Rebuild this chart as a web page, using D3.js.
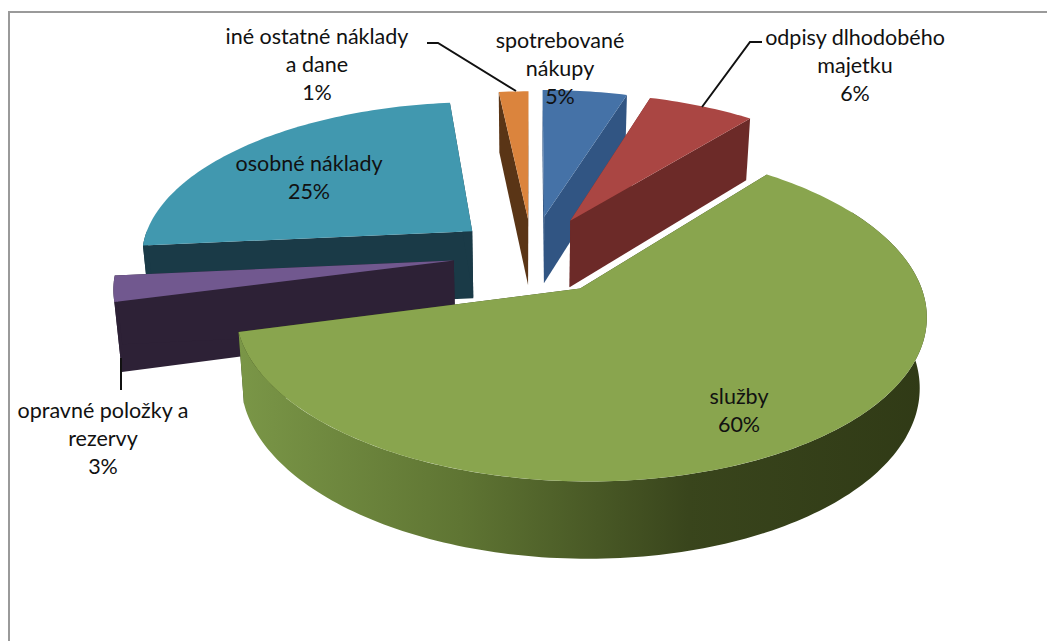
<!DOCTYPE html>
<html>
<head>
<meta charset="utf-8">
<script src="https://cdn.jsdelivr.net/npm/d3@7"></script>
<style>
  html, body { margin: 0; padding: 0; background: #fff; }
  text { font-family: Lato, "Open Sans", sans-serif; font-size: 21.5px; fill: #111; text-anchor: middle; }
</style>
</head>
<body>
<div id="chart"></div>
<script>
const categories = [
  ['spotrebované', 'nákupy'],
  ['odpisy dlhodobého', 'majetku'],
  ['služby'],
  ['opravné položky a', 'rezervy'],
  ['osobné náklady'],
  ['iné ostatné náklady', 'a dane']
];
// slice sizes, the printed labels are rounded
const values = [4.78, 6.03, 60.08, 2.61, 24.83, 1.67];
const percentLabels = ['5%', '6%', '60%', '3%', '25%', '1%'];
const topColors = ['#4572a7', '#aa4643', '#89a54e', '#71588f', '#4198af', '#db843d'];
const wallColors = ['#315583', '#6c2a28', '#36421b', '#2d2136', '#1a3a47', '#5a3516'];

// where the label text sits, [x, y of first line]
const labelPos = [[560, 43], [855, 40], [739, 399], [103, 413], [309, 166], [317, 39]];
const leaders = [
  null,
  [[762, 42], [750, 42], [702, 107]],
  null,
  [[121, 358], [121, 390]],
  null,
  [[427, 43], [438, 43], [516, 91]]
];
const drawOrder = [4, 5, 0, 1, 3, 2];
const explodes = [0.25, 0.25, 0.255, 0.235, 0.235, 0.235];
const radii = [1, 1, 0.984, 0.99, 0.99, 1];

const w = 1047;
const h = 641;
const cx = 532, cy = 254;
const scaleX = 336, scaleY = 156, persp = 0.149;
const depth = 68;

const svg = d3.select('#chart').append('svg')
  .attr('width', w)
  .attr('height', h)
  .style('display', 'block');

const defs = svg.append('defs');
const grad = defs.append('linearGradient')
  .attr('id', 'wallGreen')
  .attr('gradientUnits', 'userSpaceOnUse')
  .attr('x1', 240).attr('x2', 930).attr('y1', 0).attr('y2', 0);
[[0, '#7a9647'], [0.32, '#5f7533'], [0.65, '#39451c'], [1, '#303a16']].forEach(s => {
  grad.append('stop').attr('offset', s[0]).attr('stop-color', s[1]);
});

// frame of the chart, open on the right and at the bottom
svg.append('path')
  .attr('d', 'M9,641V12H1047')
  .attr('fill', 'none')
  .attr('stroke', '#9a9a9a')
  .attr('stroke-width', 2);

const pie = d3.pie().sort(null).value(d => d).startAngle(0).endAngle(2 * Math.PI);
const slices = pie(values);

// world position on the pie plane -> screen, z 0 is the top face and 1 the bottom
const project = (x, y, z) => {
  const k = 1 + persp * y;
  const shrink = 1 - 0.018 * z;
  return [
    cx + scaleX * x / k * shrink,
    cy - scaleY * y / k + z * depth / (1 + 0.1 * y)
  ];
};

const line = d3.line();

slices.forEach((s, i) => {
  const mid = (s.startAngle + s.endAngle) / 2;
  s.ox = explodes[i] * Math.sin(mid);
  s.oy = explodes[i] * Math.cos(mid);
  s.r = radii[i];
  s.color = topColors[i];
  s.wall = wallColors[i];
});

const rimPoints = (s, a0, a1, z) => {
  const n = Math.max(2, Math.ceil((a1 - a0) / 0.02));
  return d3.range(n + 1).map(j => {
    const a = a0 + (a1 - a0) * j / n;
    return project(s.ox + s.r * Math.sin(a), s.oy + s.r * Math.cos(a), z);
  });
};

const pieG = svg.append('g');

drawOrder.forEach(i => {
  const s = slices[i];
  const g = pieG.append('g');
  const apexTop = project(s.ox, s.oy, 0);
  const apexBottom = project(s.ox, s.oy, 1);

  // cut faces
  [s.startAngle, s.endAngle].forEach(a => {
    const rimTop = rimPoints(s, a, a, 0)[0];
    const rimBottom = rimPoints(s, a, a, 1)[0];
    g.append('path')
      .attr('d', line([apexTop, rimTop, rimBottom, apexBottom]) + 'Z')
      .attr('fill', s.wall);
  });

  // outer wall, only the part that faces the viewer
  const a0 = Math.max(s.startAngle, Math.PI / 3);
  const a1 = Math.min(s.endAngle, 1.5 * Math.PI);
  if (a1 > a0) {
    const pts = rimPoints(s, a0, a1, 0).concat(rimPoints(s, a0, a1, 1).reverse());
    g.append('path')
      .attr('d', line(pts) + 'Z')
      .attr('fill', i === 2 ? 'url(#wallGreen)' : s.wall);
  }

  // top face
  const topPts = [apexTop].concat(rimPoints(s, s.startAngle, s.endAngle, 0));
  g.append('path')
    .attr('d', line(topPts) + 'Z')
    .attr('fill', s.color);
});

leaders.forEach(l => {
  if (!l) return;
  svg.append('path')
    .attr('d', line(l))
    .attr('fill', 'none')
    .attr('stroke', '#111')
    .attr('stroke-width', 2);
});

categories.forEach((lines, i) => {
  const t = svg.append('text').attr('x', labelPos[i][0]).attr('y', labelPos[i][1]);
  lines.concat(percentLabels[i]).forEach((txt, j) => {
    t.append('tspan')
      .attr('x', labelPos[i][0])
      .attr('y', labelPos[i][1] + j * 28)
      .attr('dominant-baseline', 'middle')
      .text(txt);
  });
});
</script>
</body>
</html>
